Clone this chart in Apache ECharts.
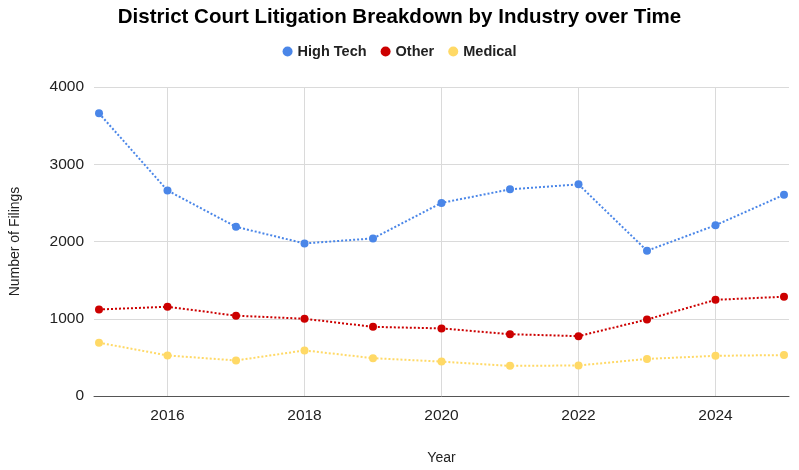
<!DOCTYPE html>
<html><head><meta charset="utf-8">
<script src="https://cdn.jsdelivr.net/npm/echarts@6/dist/echarts.min.js"></script>
<style>html,body{margin:0;padding:0;background:#fff}#c{width:799px;height:470px}</style>
</head><body><div id="c"></div>
<script>
const years = [2015,2016,2017,2018,2019,2020,2021,2022,2023,2024,2025];
const xTicks = [2016,2018,2020,2022,2024];
const highTech = [3660,2660,2190,1975,2040,2500,2675,2740,1880,2210,2605];
const other = [1120,1155,1040,1000,895,875,800,775,990,1245,1285];
const medical = [690,525,460,590,490,445,390,395,480,520,530];

const font = 'Liberation Sans, Arial, sans-serif';
const toPairs = arr => years.map((y,i)=>[y,arr[i]]);
const mk = (name, data, color) => ({
  name, type:'line', data: toPairs(data), symbol:'circle', symbolSize:8,
  itemStyle:{color}, lineStyle:{color, width:2, type:[2,2]}
});
const chart = echarts.init(document.getElementById('c'));
chart.setOption({
  animation:false,
  title:{text:'District Court Litigation Breakdown by Industry over Time', left:'center', top:2,
    textStyle:{fontFamily:font, fontSize:20.5, fontWeight:'bold', color:'#000'}},
  legend:{top:39, left:'center', icon:'circle', itemWidth:10, itemHeight:10, itemGap:14,
    textStyle:{fontFamily:font, fontSize:14.5, fontWeight:'bold', color:'#222'}},
  grid:{left:92, right:10, top:87, bottom:73},
  xAxis:{type:'value', min:2014.927, max:2025.073, name:'Year', nameLocation:'middle', nameGap:55,
    nameTextStyle:{fontFamily:font, fontSize:14, color:'#222'},
    axisLine:{show:true, onZero:false, lineStyle:{color:'#555', width:1}},
    axisTick:{show:false, customValues:xTicks},
    axisLabel:{customValues:xTicks, formatter:v=>String(v), fontFamily:font, fontSize:15.5, color:'#222', margin:12},
    splitLine:{show:true, lineStyle:{color:'#dadada', width:1}}},
  yAxis:{type:'value', min:0, max:4000, interval:1000, name:'Number of Filings', nameLocation:'middle', nameGap:72,
    nameTextStyle:{fontFamily:font, fontSize:14, color:'#222'},
    axisLine:{show:false}, axisTick:{show:false},
    axisLabel:{formatter:v=>String(v), fontFamily:font, fontSize:15.5, color:'#222', margin:10},
    splitLine:{lineStyle:{color:'#dadada', width:1}}},
  series:[mk('High Tech', highTech, '#4a86e8'), mk('Other', other, '#cc0000'), mk('Medical', medical, '#ffd966')]
});
</script></body></html>
